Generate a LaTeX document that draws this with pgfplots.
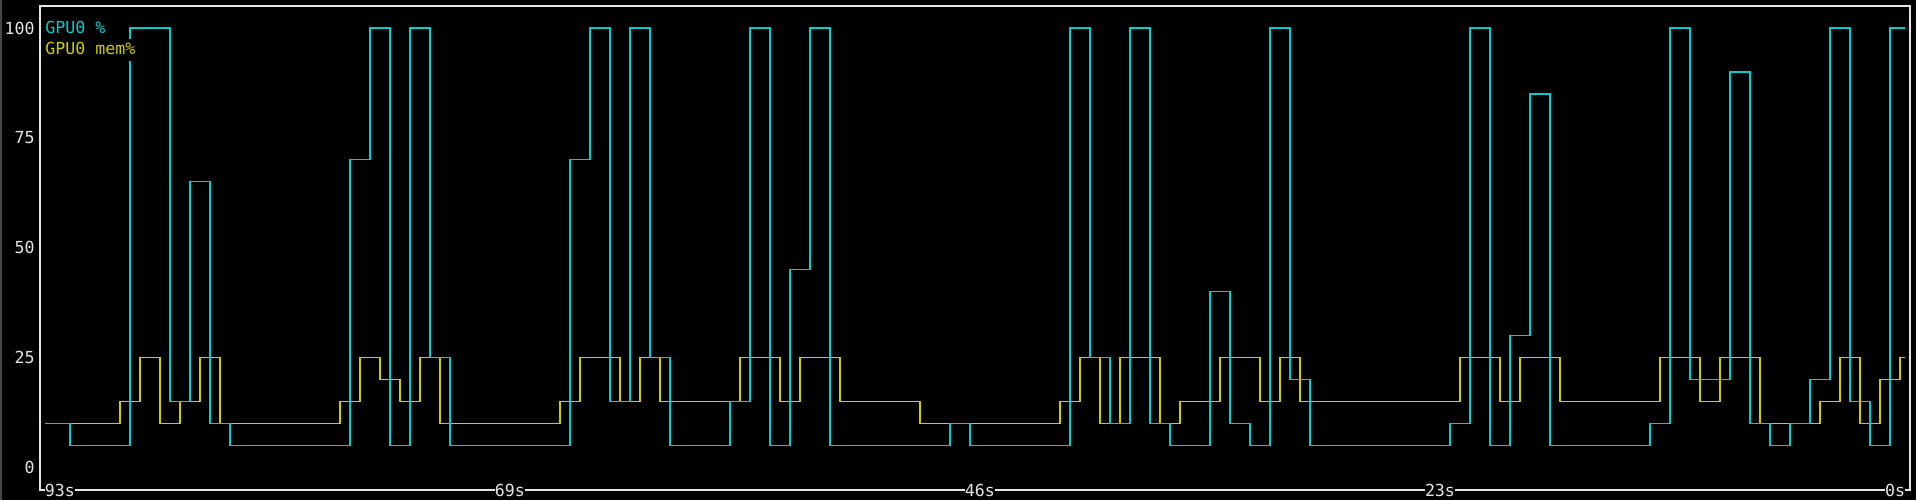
\documentclass[border=0pt]{standalone}
\usepackage{pgfplots}
\pgfplotsset{compat=1.18}
\usepackage{fontspec}
\setmainfont{DejaVu Sans Mono}
\definecolor{cyanc}{RGB}{0,205,205}
\definecolor{yellowc}{RGB}{205,205,0}
\definecolor{framec}{RGB}{229,229,229}
\pgfplotstableread{
t v
93 10
89.25 15
88.25 25
87.25 10
86.25 15
85.25 25
84.25 10
78.25 15
77.25 25
76.25 20
75.25 15
74.25 25
73.25 10
67.25 15
66.25 25
64.25 15
63.25 25
62.25 15
58.25 25
56.25 15
55.25 25
53.25 15
49.25 10
42.25 15
41.25 25
40.25 10
39.25 25
37.25 10
36.25 15
34.25 25
32.25 15
31.25 25
30.25 15
22.25 25
20.25 15
19.25 25
17.25 15
12.25 25
10.25 15
9.25 25
7.25 10
4.25 15
3.25 25
2.25 10
1.25 20
0.25 25
0 25
}\memdata
\pgfplotstableread{
t v
93 10
91.75 5
88.75 100
86.75 15
85.75 65
84.75 10
83.75 5
77.75 70
76.75 100
75.75 5
74.75 100
73.75 25
72.75 5
66.75 70
65.75 100
64.75 15
63.75 100
62.75 25
61.75 5
58.75 15
57.75 100
56.75 5
55.75 45
54.75 100
53.75 5
47.75 10
46.75 5
41.75 100
40.75 25
39.75 10
38.75 100
37.75 10
36.75 5
34.75 40
33.75 10
32.75 5
31.75 100
30.75 20
29.75 5
22.75 10
21.75 100
20.75 5
19.75 30
18.75 85
17.75 5
12.75 10
11.75 100
10.75 20
8.75 90
7.75 10
6.75 5
5.75 10
4.75 20
3.75 100
2.75 15
1.75 5
0.75 100
0 100
}\gpudata
\begin{document}
\begin{tikzpicture}
\fill[black] (0,0) rectangle (958pt,250pt);
\fill[black!72] (0,0) rectangle (0.9pt,250pt);
\begin{axis}[
  at={(20pt,5pt)}, anchor=south west,
  scale only axis, width=935pt, height=242pt,
  xmin=-0.25, xmax=93.25, x dir=reverse,
  ymin=-5.1, ymax=105,
  axis on top,
  axis line style={draw=framec, line width=0.6pt},
  major tick length=0pt,
  xtick={92.25,69.75,46.25,23.25,0.5},
  xticklabels={93s,69s,46s,23s,0s},
  ytick={0,25,50,75,100},
  yticklabels={0,25,50,75,100},
  /pgf/number format/assume math mode=true,
  tick label style={font=\fontsize{8.3}{10}\selectfont, text=framec},
  xticklabel style={anchor=center, fill=black, inner xsep=0pt, inner ysep=1pt},
  yticklabel style={anchor=east, inner sep=0pt, xshift=-2.5pt},
]
\addplot[const plot, draw=yellowc, line width=0.6pt, mark=none] table[x=t,y=v] {\memdata};
\addplot[const plot, draw=cyanc, line width=0.6pt, mark=none] table[x=t,y=v] {\gpudata};
\node[anchor=base west, inner sep=0pt, fill=black, text=cyanc, text height=8pt, text depth=3pt, font=\fontsize{8.3}{10}\selectfont] at (axis cs:93,98.8) {GPU0 \%};
\node[anchor=base west, inner sep=0pt, fill=black, text=yellowc, text height=8pt, text depth=3pt, font=\fontsize{8.3}{10}\selectfont] at (axis cs:93,93.9) {GPU0 mem\%};
\end{axis}
\pgfresetboundingbox
\path (0,0) rectangle (958pt,250pt);
\end{tikzpicture}
\end{document}
